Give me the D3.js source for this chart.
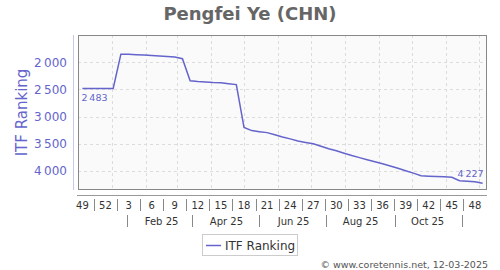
<!DOCTYPE html>
<html><head><meta charset="utf-8">
<script src="https://cdn.jsdelivr.net/npm/d3@7"></script>
<style>body{margin:0;background:#fff}svg{display:block;font-family:"DejaVu Sans",sans-serif}</style>
</head><body>
<svg id="c" width="500" height="270"></svg>
<script>
// ---- data ----
const title = "Pengfei Ye (CHN)";
const seriesName = "ITF Ranking";
const firstWeekDate = "2024-12-05"; // week 49 of 2024 (mid-week)
const rankings = [2483,2483,2483,2483,2483,1853,1856,1862,1870,1876,1884,1895,1905,1935,
  2340,2355,2365,2375,2380,2395,2412,
  3200,3258,3278,3295,3335,3375,3410,3450,3475,3500,3545,3590,3630,3675,3717,3755,3793,3831,3869,3910,3950,3995,4040,4087,4095,4102,4108,4115,4180,4190,4200,4227];
const weekTickLabels = [49,52,3,6,9,12,15,18,21,24,27,30,33,36,39,42,45,48];
const monthLabels = ["Feb 25","Apr 25","Jun 25","Aug 25","Oct 25"];
const monthLabelDates = ["2025-02-15","2025-04-15","2025-06-15","2025-08-15","2025-10-15"];
const monthSepDates = ["2025-01-15","2025-03-15","2025-05-15","2025-07-15","2025-09-15","2025-11-15"];
const yTicks = [2000,2500,3000,3500,4000];
const yDomain = [1500,4350];
const xDomain = ["2024-12-01","2025-12-08"];
const copyright = "\u00A9 www.coretennis.net, 12-03-2025";

// ---- setup ----
const parse = d3.utcParse("%Y-%m-%d");
const start = parse(firstWeekDate);
const data = rankings.map((v,i)=>({d:d3.utcDay.offset(start,7*i), v}));
const L=78,R=487,T=35,B=190;
const x = d3.scaleUtc().domain(xDomain.map(parse)).range([L,R]);
const y = d3.scaleLinear().domain(yDomain).range([T,B]);
const loc = d3.formatLocale({decimal:".",thousands:"\u2009",grouping:[3],currency:["",""]});
const fmt = loc.format(",d");
const blue = "#6464cc";

const svg = d3.select("#c");
svg.append("text").attr("x",250).attr("y",20).attr("text-anchor","middle")
  .attr("font-size",18).attr("font-weight","bold").attr("fill","#666").text(title);

// plot bg
svg.append("rect").attr("x",L).attr("y",T).attr("width",R-L).attr("height",B-T).attr("fill","#fafafa");

// grid
const months = d3.utcMonth.range(parse("2025-01-01"), parse("2025-12-02"));
svg.append("g").selectAll("line").data(months).join("line")
  .attr("x1",d=>Math.round(x(d))+0.5).attr("x2",d=>Math.round(x(d))+0.5).attr("y1",T).attr("y2",B)
  .attr("stroke","#dcdcdc").attr("stroke-dasharray","3,3");
svg.append("g").selectAll("line").data(yTicks).join("line")
  .attr("x1",L).attr("x2",R).attr("y1",d=>Math.round(y(d))+0.5).attr("y2",d=>Math.round(y(d))+0.5)
  .attr("stroke","#dcdcdc").attr("stroke-dasharray","3,3");

svg.append("rect").attr("x",L+0.5).attr("y",T+0.5).attr("width",R-L-1).attr("height",B-T-1)
  .attr("fill","none").attr("stroke","#888");

// y axis
svg.append("line").attr("x1",73.5).attr("x2",73.5).attr("y1",T).attr("y2",B).attr("stroke","#c8c8ee");
svg.append("g").selectAll("text").data(yTicks).join("text")
  .attr("x",67).attr("y",d=>y(d)+4.5).attr("text-anchor","end").attr("font-size",12)
  .attr("fill",blue).text(d=>fmt(d));
svg.append("text").attr("transform",`translate(27,${(T+B)/2}) rotate(-90)`).attr("text-anchor","middle")
  .attr("font-size",15).attr("fill",blue).text(seriesName);

// x axis
svg.append("line").attr("x1",L-1).attr("x2",R).attr("y1",195.5).attr("y2",195.5).attr("stroke","#999");
const weekDates = weekTickLabels.map((w,i)=>d3.utcDay.offset(start,21*i));
svg.append("g").selectAll("text").data(weekTickLabels).join("text")
  .attr("x",(d,i)=>x(weekDates[i])).attr("y",209).attr("text-anchor","middle")
  .attr("font-size",10).attr("fill","#333").text(d=>d);
svg.append("g").selectAll("line").data(weekDates.slice(0,-1)).join("line")
  .attr("x1",d=>Math.round(x(d3.utcHour.offset(d,252)))+0.5).attr("x2",d=>Math.round(x(d3.utcHour.offset(d,252)))+0.5)
  .attr("y1",199).attr("y2",211).attr("stroke","#888");
svg.append("g").selectAll("text").data(monthLabels).join("text")
  .attr("x",(d,i)=>x(parse(monthLabelDates[i]))).attr("y",225).attr("text-anchor","middle")
  .attr("font-size",10).attr("fill","#333").text(d=>d);
svg.append("g").selectAll("line").data(monthSepDates).join("line")
  .attr("x1",d=>Math.round(x(parse(d)))+0.5).attr("x2",d=>Math.round(x(parse(d)))+0.5)
  .attr("y1",215).attr("y2",227).attr("stroke","#888");

// line
svg.append("path").datum(data).attr("fill","none").attr("stroke",blue).attr("stroke-width",1.5)
  .attr("d",d3.line().x(d=>x(d.d)).y(d=>y(d.v)));

// labels first/last
const f=data[0], l=data[data.length-1];
svg.append("text").attr("x",x(f.d)-1).attr("y",y(f.v)+13).attr("font-size",9.5).attr("fill",blue).text(fmt(f.v));
svg.append("text").attr("x",x(l.d)+1).attr("y",y(l.v)-6).attr("text-anchor","end").attr("font-size",9.5).attr("fill",blue).text(fmt(l.v));

// legend
svg.append("rect").attr("x",202.5).attr("y",234.5).attr("width",95).attr("height",21).attr("fill","#fff").attr("stroke","#ccc");
svg.append("line").attr("x1",206).attr("x2",221).attr("y1",245.5).attr("y2",245.5).attr("stroke",blue).attr("stroke-width",1.5);
svg.append("text").attr("x",225).attr("y",249.5).attr("font-size",12).attr("fill","#333").text(seriesName);

svg.append("text").attr("x",488).attr("y",268).attr("text-anchor","end").attr("font-size",9.5).attr("fill","#555").text(copyright);
</script>
</body></html>
